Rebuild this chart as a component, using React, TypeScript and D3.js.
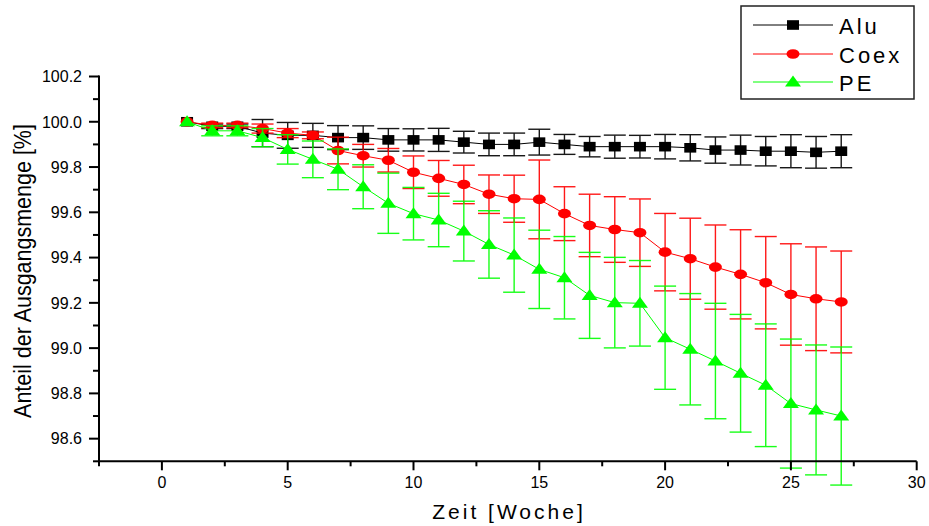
import React from "react";
import * as d3 from "d3";

const weeks = [1, 2, 3, 4, 5, 6, 7, 8, 9, 10, 11, 12, 13, 14, 15, 16, 17, 18, 19, 20, 21, 22, 23, 24, 25, 26, 27];

const alu = [100.0, 99.98, 99.98, 99.95, 99.94, 99.94, 99.93, 99.93, 99.92, 99.92, 99.92, 99.91, 99.9, 99.9, 99.91, 99.9, 99.89, 99.89, 99.89, 99.89, 99.885, 99.875, 99.875, 99.87, 99.87, 99.865, 99.87];
const aluErr = [0, 0.01, 0.01, 0.06, 0.057, 0.053, 0.053, 0.052, 0.05, 0.049, 0.051, 0.048, 0.05, 0.05, 0.057, 0.044, 0.045, 0.051, 0.05, 0.054, 0.058, 0.058, 0.066, 0.065, 0.073, 0.07, 0.073];

const coex = [100.0, 99.984, 99.984, 99.97, 99.95, 99.94, 99.873, 99.85, 99.83, 99.777, 99.75, 99.723, 99.68, 99.66, 99.657, 99.594, 99.542, 99.524, 99.51, 99.424, 99.395, 99.358, 99.326, 99.289, 99.237, 99.218, 99.204];
const coexErr = [0, 0.01, 0.01, 0.02, 0.02, 0.015, 0.059, 0.05, 0.052, 0.072, 0.079, 0.085, 0.085, 0.104, 0.174, 0.119, 0.138, 0.145, 0.149, 0.171, 0.179, 0.186, 0.197, 0.204, 0.224, 0.229, 0.225];

const pe = [100.0, 99.96, 99.96, 99.93, 99.878, 99.834, 99.79, 99.713, 99.64, 99.594, 99.566, 99.517, 99.458, 99.411, 99.348, 99.311, 99.233, 99.201, 99.198, 99.046, 98.995, 98.943, 98.889, 98.836, 98.755, 98.727, 98.7];
const peErr = [0, 0.022, 0.022, 0.04, 0.065, 0.081, 0.09, 0.097, 0.133, 0.116, 0.118, 0.132, 0.149, 0.164, 0.173, 0.182, 0.19, 0.2, 0.189, 0.228, 0.246, 0.255, 0.26, 0.271, 0.285, 0.287, 0.305];

const seriesNames = ["Alu", "Coex", "PE"];
const seriesColors = ["#000000", "#ff0000", "#00ff00"];
const seriesShapes = ["square", "circle", "triangle"];

const xMajorTicks = [0, 5, 10, 15, 20, 25, 30];
const xMinorTicks = [-2.5, 2.5, 7.5, 12.5, 17.5, 22.5, 27.5];
const yMajorTicks = [98.6, 98.8, 99.0, 99.2, 99.4, 99.6, 99.8, 100.0, 100.2];
const yMinorTicks = [98.5, 98.7, 98.9, 99.1, 99.3, 99.5, 99.7, 99.9, 100.1];

const xLabel = "Zeit [Woche]";
const yLabel = "Anteil der Ausgangsmenge [%]";

const FONT = "'Liberation Sans', Arial, Helvetica, sans-serif";

function Marker({ shape, cx, cy, color }: { shape: string; cx: number; cy: number; color: string }) {
  if (shape === "square") {
    return <rect x={cx - 6} y={cy - 4.8} width={12} height={9.6} fill={color} />;
  }
  if (shape === "circle") {
    return <ellipse cx={cx} cy={cy} rx={6.5} ry={4.8} fill={color} />;
  }
  const pts = [
    [cx, cy - 6.5],
    [cx - 8, cy + 4.5],
    [cx + 8, cy + 4.5],
  ];
  return <polygon points={pts.map((p) => p.join(",")).join(" ")} fill={color} />;
}

export default function App() {
  const W = 929;
  const H = 526;
  const x = d3.scaleLinear().domain([-2.5, 30]).range([99, 916.7]);
  const y = d3.scaleLinear().domain([98.5, 100.2]).range([461.3, 76.5]);

  const values = [alu, coex, pe];
  const errs = [aluErr, coexErr, peErr];

  const line = d3
    .line<number>()
    .x((_, i) => x(weeks[i]))
    .y((d) => y(d));

  const capW = 11;
  const axisY = y(98.5);
  const axisX = x(-2.5);

  return (
    <svg
      width={W}
      height={H}
      style={{ position: "absolute", left: 0, top: 0, background: "#fff" }}
      fontFamily={FONT}
    >
      <rect x={0} y={0} width={W} height={H} fill="#fff" />

      {values.map((vals, si) => {
        const color = seriesColors[si];
        return (
          <g key={si}>
            <path d={line(vals) || ""} fill="none" stroke={color} strokeWidth={1} />
            {vals.map((v, i) => {
              const e = errs[si][i];
              if (e <= 0) return null;
              const cx = x(weeks[i]);
              const y1 = y(v + e);
              const y2 = y(v - e);
              return (
                <g key={i} stroke={color} strokeWidth={1.4} opacity={0.9}>
                  <line x1={cx} x2={cx} y1={y1} y2={y2} />
                  <line x1={cx - capW} x2={cx + capW} y1={y1} y2={y1} />
                  <line x1={cx - capW} x2={cx + capW} y1={y2} y2={y2} />
                </g>
              );
            })}
            {vals.map((v, i) => (
              <Marker key={"m" + i} shape={seriesShapes[si]} cx={x(weeks[i])} cy={y(v)} color={color} />
            ))}
          </g>
        );
      })}

      {/* Axes */}
      <g stroke="#000" strokeWidth={2}>
        <line x1={axisX} x2={x(30)} y1={axisY} y2={axisY} />
        <line x1={axisX} x2={axisX} y1={axisY + 1} y2={y(100.2) - 1} />
        {xMajorTicks.map((t) => (
          <line key={"xM" + t} x1={x(t)} x2={x(t)} y1={axisY} y2={axisY + 9} />
        ))}
        {xMinorTicks.map((t) => (
          <line key={"xm" + t} x1={x(t)} x2={x(t)} y1={axisY} y2={axisY + 5} />
        ))}
        {yMajorTicks.map((t) => (
          <line key={"yM" + t} x1={axisX - 10} x2={axisX} y1={y(t)} y2={y(t)} />
        ))}
        {yMinorTicks.map((t) => (
          <line key={"ym" + t} x1={axisX - 6} x2={axisX} y1={y(t)} y2={y(t)} />
        ))}
      </g>
      <g fontSize={16} fill="#000">
        {xMajorTicks.map((t) => (
          <text key={"xl" + t} x={x(t)} y={488} textAnchor="middle">
            {String(t)}
          </text>
        ))}
        {yMajorTicks.map((t) => (
          <text key={"yl" + t} x={82} y={y(t) + 5.8} textAnchor="end">
            {t.toFixed(1)}
          </text>
        ))}
      </g>

      <text x={509} y={519} textAnchor="middle" fontSize={21} letterSpacing={3} fill="#000">
        {xLabel}
      </text>
      <text
        transform={`translate(31,271) rotate(-90) scale(1,1.15)`}
        textAnchor="middle"
        fontSize={21.5}
        fill="#000"
      >
        {yLabel}
      </text>

      {/* Legend */}
      <rect x={741} y={6} width={173} height={93} fill="#fff" stroke="#222" strokeWidth={1.5} />
      {seriesNames.map((name, i) => {
        const ly = [25, 54, 82][i];
        return (
          <g key={name}>
            <line x1={753} x2={833} y1={ly} y2={ly} stroke={seriesColors[i]} strokeWidth={1} />
            <Marker shape={seriesShapes[i]} cx={793} cy={ly} color={seriesColors[i]} />
            <text x={839} y={ly + 8.5} fontSize={22} letterSpacing={3} fill="#000">
              {name}
            </text>
          </g>
        );
      })}
    </svg>
  );
}
